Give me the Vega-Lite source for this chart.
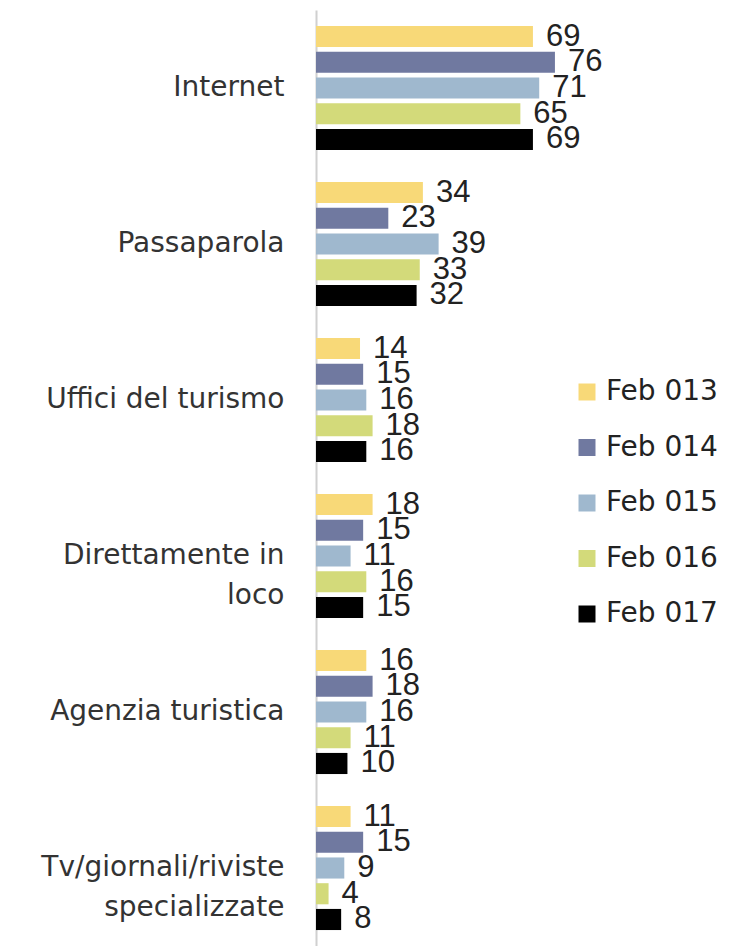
{
  "$schema": "https://vega.github.io/schema/vega-lite/v6.json",
  "autosize": {"type": "none"},
  "padding": {"left": 316, "top": 10, "right": 0, "bottom": 0},
  "width": 415,
  "height": 936,
  "background": "white",
  "config": {"view": {"stroke": null}, "font": "DejaVu Sans"},
  "data": {"values": [
    {"cat": "Internet", "serie": "Feb 013", "v": 69},
    {"cat": "Internet", "serie": "Feb 014", "v": 76},
    {"cat": "Internet", "serie": "Feb 015", "v": 71},
    {"cat": "Internet", "serie": "Feb 016", "v": 65},
    {"cat": "Internet", "serie": "Feb 017", "v": 69},
    {"cat": "Passaparola", "serie": "Feb 013", "v": 34},
    {"cat": "Passaparola", "serie": "Feb 014", "v": 23},
    {"cat": "Passaparola", "serie": "Feb 015", "v": 39},
    {"cat": "Passaparola", "serie": "Feb 016", "v": 33},
    {"cat": "Passaparola", "serie": "Feb 017", "v": 32},
    {"cat": "Uffici del turismo", "serie": "Feb 013", "v": 14},
    {"cat": "Uffici del turismo", "serie": "Feb 014", "v": 15},
    {"cat": "Uffici del turismo", "serie": "Feb 015", "v": 16},
    {"cat": "Uffici del turismo", "serie": "Feb 016", "v": 18},
    {"cat": "Uffici del turismo", "serie": "Feb 017", "v": 16},
    {"cat": "Direttamente in|loco", "serie": "Feb 013", "v": 18},
    {"cat": "Direttamente in|loco", "serie": "Feb 014", "v": 15},
    {"cat": "Direttamente in|loco", "serie": "Feb 015", "v": 11},
    {"cat": "Direttamente in|loco", "serie": "Feb 016", "v": 16},
    {"cat": "Direttamente in|loco", "serie": "Feb 017", "v": 15},
    {"cat": "Agenzia turistica", "serie": "Feb 013", "v": 16},
    {"cat": "Agenzia turistica", "serie": "Feb 014", "v": 18},
    {"cat": "Agenzia turistica", "serie": "Feb 015", "v": 16},
    {"cat": "Agenzia turistica", "serie": "Feb 016", "v": 11},
    {"cat": "Agenzia turistica", "serie": "Feb 017", "v": 10},
    {"cat": "Tv/giornali/riviste|specializzate", "serie": "Feb 013", "v": 11},
    {"cat": "Tv/giornali/riviste|specializzate", "serie": "Feb 014", "v": 15},
    {"cat": "Tv/giornali/riviste|specializzate", "serie": "Feb 015", "v": 9},
    {"cat": "Tv/giornali/riviste|specializzate", "serie": "Feb 016", "v": 4},
    {"cat": "Tv/giornali/riviste|specializzate", "serie": "Feb 017", "v": 8}
  ]},
  "encoding": {
    "y": {
      "field": "cat", "type": "nominal", "sort": null,
      "scale": {"paddingInner": 0, "paddingOuter": 0},
      "axis": {
        "title": null, "ticks": false, "domain": true, "domainColor": "#D0D0D0", "domainWidth": 2,
        "labelExpr": "split(datum.label, '|')",
        "labelFontSize": 28, "labelColor": "#333333", "labelPadding": 32,
        "labelLineHeight": 40, "labelLimit": 400,
        "encode": {"labels": {"update": {"dy": {"signal": "indexof(datum.value, '|') >= 0 ? -20 : 0"}}}}
      }
    },
    "yOffset": {
      "field": "serie", "type": "nominal", "sort": null,
      "scale": {"paddingInner": 0.18, "paddingOuter": 0.62}
    },
    "x": {
      "field": "v", "type": "quantitative",
      "scale": {"domain": [0, 132], "nice": false},
      "axis": null
    }
  },
  "layer": [
    {
      "mark": {"type": "bar"},
      "encoding": {
        "color": {
          "field": "serie", "type": "nominal", "sort": null,
          "scale": {
            "domain": ["Feb 013", "Feb 014", "Feb 015", "Feb 016", "Feb 017"],
            "range": ["#F8D978", "#7079A0", "#9FB8CE", "#D3DA7A", "#000000"]
          },
          "legend": {
            "title": null, "orient": "none", "legendX": 257, "legendY": 368,
            "symbolType": "square", "symbolSize": 289, "symbolStrokeWidth": 0,
            "labelFontSize": 28, "labelColor": "#222222", "labelOffset": 5,
            "rowPadding": 27.5
          }
        }
      }
    },
    {
      "mark": {"type": "text", "align": "left", "baseline": "middle", "dx": 13, "fontSize": 31, "font": "Liberation Sans", "color": "#222222"},
      "encoding": {"text": {"field": "v", "type": "quantitative"}}
    }
  ]
}
